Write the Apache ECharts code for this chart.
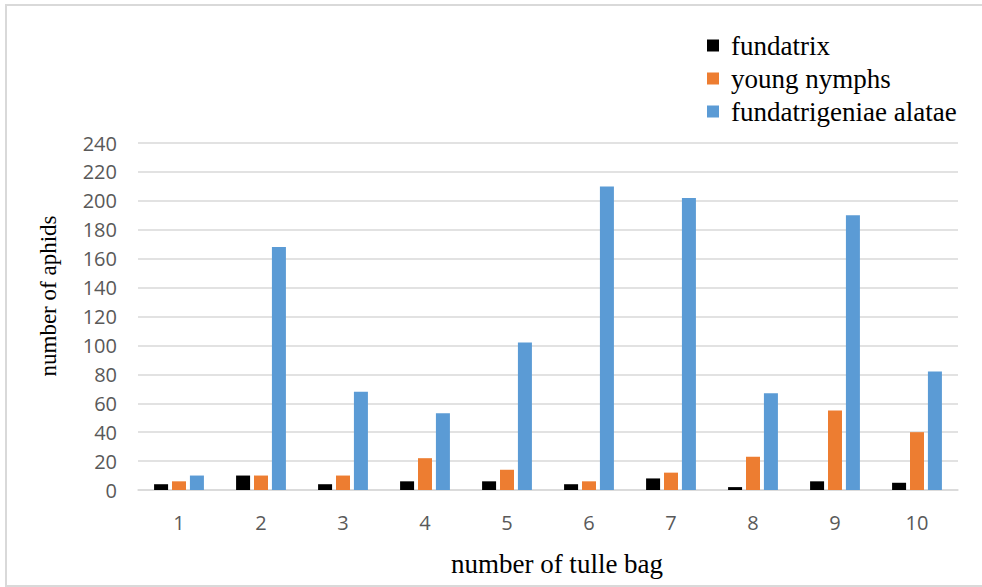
<!DOCTYPE html>
<html>
<head>
<meta charset="utf-8">
<script src="https://cdn.jsdelivr.net/npm/echarts@6/dist/echarts.min.js"></script>
<style>
  html, body { margin: 0; padding: 0; background: #ffffff; overflow: hidden; }
  #chart { width: 982px; height: 587px; }
</style>
</head>
<body>
<div id="chart"></div>
<script>
// Aphid counts per tulle bag
const bags = ['1', '2', '3', '4', '5', '6', '7', '8', '9', '10'];
const fundatrix = [4, 10, 4, 6, 6, 4, 8, 2, 6, 5];
const youngNymphs = [6, 10, 10, 22, 14, 6, 12, 23, 55, 40];
const fundatrigeniaeAlatae = [10, 168, 68, 53, 102, 210, 202, 67, 190, 82];
const yTicks = { min: 0, max: 240, interval: 20 };

const serif = '"Liberation Serif", "Times New Roman", serif';
const sans = '"Open Sans", "Noto Sans", sans-serif';

const chart = echarts.init(document.getElementById('chart'), null, { renderer: 'svg', width: 982, height: 587 });

function barSeries(name, data, color) {
  return {
    name: name,
    type: 'bar',
    data: data,
    barWidth: 14,
    barGap: '28%',
    itemStyle: { color: color },
    emphasis: { disabled: true }
  };
}

chart.setOption({
  animation: false,
  backgroundColor: '#ffffff',
  graphic: [
    {
      type: 'rect',
      shape: { x: 6, y: 5, width: 1000, height: 581 },
      style: { fill: 'none', stroke: '#d9d9d9', lineWidth: 2 },
      silent: true,
      z: -1
    },
    {
      type: 'text',
      rotation: Math.PI / 2,
      x: 48,
      y: 296,
      style: {
        text: 'number of aphids',
        font: '23px ' + serif,
        fill: '#000000',
        textAlign: 'center',
        textVerticalAlign: 'middle'
      },
      silent: true
    }
  ],
  legend: {
    orient: 'vertical',
    left: 702,
    top: 27,
    itemWidth: 12,
    itemHeight: 12,
    itemGap: 6,
    icon: 'rect',
    textStyle: {
      fontFamily: serif,
      fontSize: 27,
      color: '#000000',
      padding: [0, 0, 0, 7]
    },
    data: ['fundatrix', 'young nymphs', 'fundatrigeniae alatae']
  },
  grid: {
    left: 138, width: 820, top: 143, height: 347,
    containLabel: false,
    outerBoundsMode: 'none'
  },
  xAxis: {
    type: 'category',
    data: bags,
    name: 'number of tulle bag',
    nameLocation: 'middle',
    nameGap: 60,
    nameTextStyle: { fontFamily: serif, fontSize: 27, color: '#000000', padding: [0, 0, 0, 18] },
    axisLine: { lineStyle: { color: '#d9d9d9', width: 1.5 } },
    axisTick: { show: false },
    axisLabel: { fontFamily: sans, fontSize: 20, color: '#595959', margin: 22 }
  },
  yAxis: {
    type: 'value',
    min: yTicks.min,
    max: yTicks.max,
    interval: yTicks.interval,
    axisLine: { show: false },
    axisTick: { show: false },
    axisLabel: { fontFamily: sans, fontSize: 20, color: '#595959', margin: 21 },
    splitLine: { lineStyle: { color: '#d9d9d9', width: 1.5 } }
  },
  series: [
    barSeries('fundatrix', fundatrix, '#000000'),
    barSeries('young nymphs', youngNymphs, '#ED7D31'),
    barSeries('fundatrigeniae alatae', fundatrigeniaeAlatae, '#5B9BD5')
  ]
});
</script>
</body>
</html>
